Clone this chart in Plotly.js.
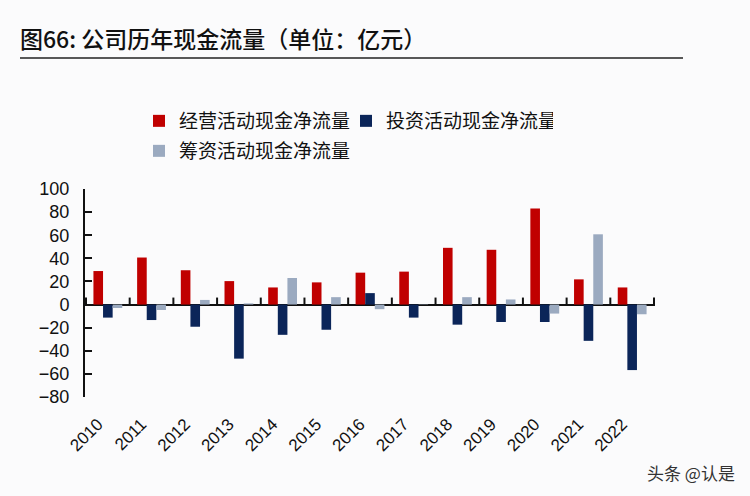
<!DOCTYPE html>
<html>
<head>
<meta charset="utf-8">
<script src="https://cdn.plot.ly/plotly-3.0.1.min.js"></script>
<style>html,body{margin:0;padding:0;background:#fbfbfc;}</style>
</head>
<body>
<div id="chart" style="width:750px;height:496px;"></div>
<script>
const years = ["2010","2011","2012","2013","2014","2015","2016","2017","2018","2019","2020","2021","2022"];
const operating = [29, 40.7, 29.7, 20.3, 14.8, 19.2, 27.6, 28.5, 49.1, 47.4, 83.1, 21.8, 14.8];
const investing = [-11.3, -13.4, -19.2, -46.8, -26.2, -21.8, 9.9, -11.3, -17.4, -15.1, -15.1, -31.4, -56.7];
const financing = [-3, -4.7, 4, 1, 23, 6.4, -4, 0.3, 6.4, 4.4, -7.8, 60.8, -8.4];
const seriesNames = ["经营活动现金净流量", "投资活动现金净流量", "筹资活动现金净流量"];
const colors = ["#C00000", "#0B2559", "#9BAAC0"];

const cjk = '"Noto Sans CJK SC", "Noto Sans", sans-serif';
const num = '"Liberation Sans", Arial, sans-serif';

const traces = [
  {type:'bar', name:seriesNames[0], x:years, y:operating, marker:{color:colors[0]}, legend:'legend'},
  {type:'bar', name:seriesNames[1], x:years, y:investing, marker:{color:colors[1]}, legend:'legend'},
  {type:'bar', name:seriesNames[2], x:years, y:financing, marker:{color:colors[2]}, legend:'legend2'}
];

// small tick marks on the zero line at category boundaries
const shapes = [];
for (let i = 0; i <= years.length; i++) {
  shapes.push({type:'line', xref:'x', yref:'y', x0:i-0.5, x1:i-0.5, ysizemode:'pixel', yanchor:0, y0:0, y1:7,
    line:{color:'#111', width:2}});
}
// title underline
shapes.push({type:'line', xref:'paper', yref:'paper', x0:(20-85)/570, x1:(683-85)/570, y0:(397-58)/208, y1:(397-58)/208,
  line:{color:'#222', width:1.5}});

const layout = {
  width:750, height:496,
  paper_bgcolor:'#fbfbfc', plot_bgcolor:'rgba(0,0,0,0)',
  margin:{l:85, r:95, t:189, b:99},
  title:{text:'图66: 公司历年现金流量（单位：亿元）', font:{family:cjk, size:23, color:'#111', weight:500},
    xref:'container', x:20/750, xanchor:'left', yref:'container', y:1-40/496, yanchor:'middle'},
  barmode:'group', bargap:0.34, bargroupgap:0,
  xaxis:{type:'category', showline:false, ticks:'', showgrid:false, zeroline:false,
    tickangle:-45, tickfont:{family:num, size:17, color:'#111'}, ticklabelstandoff:13, ticklabelshift:-10},
  yaxis:{range:[-80,100], dtick:20, showgrid:false, showline:true, linecolor:'#111', linewidth:2,
    ticks:'inside', ticklen:7, tickwidth:2, tickcolor:'#111',
    zeroline:true, zerolinecolor:'#111', zerolinewidth:2,
    tickfont:{family:num, size:18, color:'#111'}, ticklabelstandoff:10},
  legend:{orientation:'h', xref:'container', yref:'container', x:139/750, y:1-102/496, xanchor:'left', yanchor:'top',
    font:{family:cjk, size:19, color:'#111'}, bgcolor:'rgba(0,0,0,0)', entrywidth:162, traceorder:'normal'},
  legend2:{orientation:'h', xref:'container', yref:'container', x:139/750, y:1-132/496, xanchor:'left', yanchor:'top',
    font:{family:cjk, size:19, color:'#111'}, bgcolor:'rgba(0,0,0,0)'},
  shapes:shapes,
  annotations:[{text:'头条 @认是', xref:'paper', yref:'paper', x:(737-85)/570, y:(397-472)/208,
    xanchor:'right', yanchor:'middle', showarrow:false, font:{family:cjk, size:17, color:'#333'}}]
};

Plotly.newPlot('chart', traces, layout, {displayModeBar:false, staticPlot:true});
</script>
</body>
</html>
